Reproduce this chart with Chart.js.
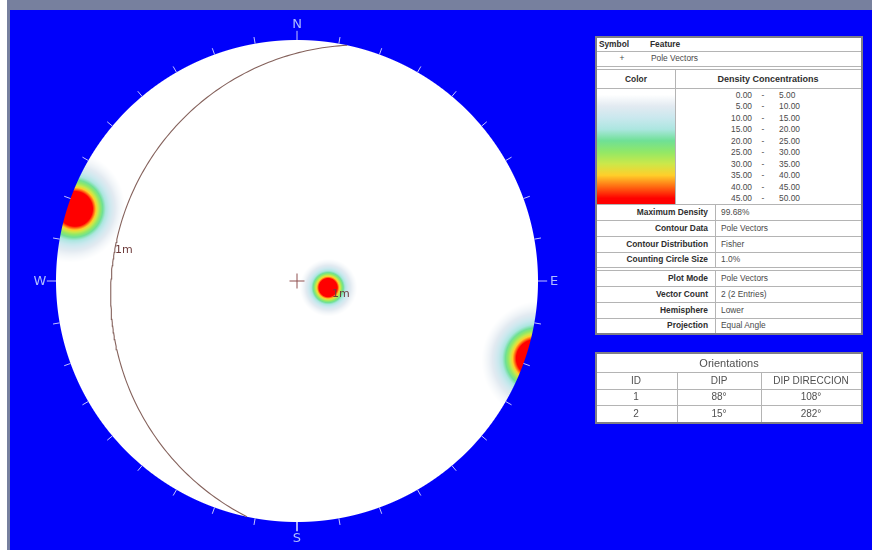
<!DOCTYPE html>
<html>
<head>
<meta charset="utf-8">
<script src="https://cdn.jsdelivr.net/npm/chart.js@4/dist/chart.umd.min.js"></script>
<style>
  html, body { margin: 0; padding: 0; background: #ffffff; }
  #wrap { position: relative; width: 872px; height: 550px; overflow: hidden; }
  #c { position: absolute; left: 0; top: 0; }
  .box { position: absolute; background: #ffffff; border: 2px solid #7f7f87; box-sizing: border-box; }
  .t { position: absolute; white-space: nowrap; font-family: "Liberation Sans", Arial, sans-serif; font-size: 8.4px; line-height: 1; color: #4a4a4a; }
  .b { font-weight: bold; color: #2e2e2e; }
  .o { font-size: 10px; color: #505050; }
  .hl { position: absolute; height: 1px; background: #b4b4b4; }
  .vl { position: absolute; width: 1px; background: #b4b4b4; }
</style>
</head>
<body>
<div id="wrap">
  <canvas id="c" width="872" height="550"></canvas>
  <div id="tables"></div>
</div>
<script>
// ---- Orientation data (plane dip / dip direction) ----
const planeIds = ['1', '2'];
const dips = [88, 15];
const dipDirections = [108, 282];
const meanPlaneIndex = 1;          // plane whose great circle and pole carry the set label
const meanSetLabel = '1m';

// ---- Compass labels (azimuth in degrees) ----
const compassLabels = ['N', 'E', 'S', 'W'];
const compassAzimuths = [0, 90, 180, 270];

// ---- Density legend ----
const densityLow = [0, 5, 10, 15, 20, 25, 30, 35, 40, 45];
const densityHigh = [5, 10, 15, 20, 25, 30, 35, 40, 45, 50];
const densityColors = ['#ffffff', '#e2eaf1', '#cae8ee', '#ace6e0', '#6fe096',
                       '#92e866', '#cbe84a', '#ffcf2a', '#ff6a12', '#ff0000'];

// ---- Contour / plot information ----
const contourInfoLabels = ['Maximum Density', 'Contour Data', 'Contour Distribution', 'Counting Circle Size'];
const contourInfoValues = ['99.68%', 'Pole Vectors', 'Fisher', '1.0%'];
const plotInfoLabels = ['Plot Mode', 'Vector Count', 'Hemisphere', 'Projection'];
const plotInfoValues = ['Pole Vectors', '2 (2 Entries)', 'Lower', 'Equal Angle'];
const orientationTitle = 'Orientations';
const orientationHeaders = ['ID', 'DIP', 'DIP DIRECCION'];

const maxDensity = parseFloat(contourInfoValues[0]);
const kernelWidth = 5.3;           // angular width of the smoothing kernel, degrees
const kernelShape = 1.4;           // exponent of the kernel fall-off

const rad = Math.PI / 180;

// Lower-hemisphere equal-angle (stereographic) projection of a unit vector (north, east, down)
function project(n, e, d) {
  if (d < 0) { n = -n; e = -e; d = -d; }
  return { x: e / (1 + d), y: n / (1 + d) };
}
function poleVector(dip, dipDir) {
  return [-Math.sin(dip * rad) * Math.cos(dipDir * rad),
          -Math.sin(dip * rad) * Math.sin(dipDir * rad),
           Math.cos(dip * rad)];
}
function greatCircle(dip, dipDir) {
  const s = [Math.cos((dipDir - 90) * rad), Math.sin((dipDir - 90) * rad), 0];
  const dv = [Math.cos(dip * rad) * Math.cos(dipDir * rad), Math.cos(dip * rad) * Math.sin(dipDir * rad), Math.sin(dip * rad)];
  const pts = [];
  for (let t = 0; t <= 180; t += 1) {
    const c = Math.cos(t * rad), sn = Math.sin(t * rad);
    pts.push(project(s[0] * c + dv[0] * sn, s[1] * c + dv[1] * sn, s[2] * c + dv[2] * sn));
  }
  return pts;
}

const poles = dips.map((d, i) => poleVector(d, dipDirections[i]));
const poleXY = poles.map(p => project(p[0], p[1], p[2]));
const meanCircle = greatCircle(dips[meanPlaneIndex], dipDirections[meanPlaneIndex]);

// Azimuth ticks around the primitive circle
const tickData = [];
for (let az = 0; az < 360; az += 10) {
  const len = (az % 90 === 0) ? 1.038 : 1.028;
  tickData.push({ x: Math.sin(az * rad), y: Math.cos(az * rad) });
  tickData.push({ x: len * Math.sin(az * rad), y: len * Math.cos(az * rad) });
  tickData.push({ x: 0, y: null });
}

// Colour ramp for density values (colour of each legend bin at its middle)
const rampStops = densityColors.map((c, i) => ({
  v: (densityLow[i] + densityHigh[i]) / 2,
  rgb: [parseInt(c.slice(1, 3), 16), parseInt(c.slice(3, 5), 16), parseInt(c.slice(5, 7), 16)]
}));
function rampColor(v) {
  if (v <= rampStops[0].v) return rampStops[0].rgb;
  for (let i = 1; i < rampStops.length; i++) {
    if (v <= rampStops[i].v) {
      const a = rampStops[i - 1], b = rampStops[i];
      const f = (v - a.v) / (b.v - a.v);
      return [0, 1, 2].map(k => a.rgb[k] + (b.rgb[k] - a.rgb[k]) * f);
    }
  }
  return rampStops[rampStops.length - 1].rgb;
}

const stereonetPlugin = {
  id: 'stereonet',
  beforeDraw(chart) {
    const ctx = chart.ctx;
    ctx.save();
    ctx.fillStyle = '#ffffff';
    ctx.fillRect(0, 0, chart.width, chart.height);
    ctx.fillStyle = '#77809e';
    ctx.fillRect(7, 0, chart.width - 7, 10);
    ctx.fillRect(7, 0, 3, chart.height);
    ctx.fillStyle = '#0000fb';
    ctx.fillRect(10, 10, chart.width - 10, chart.height - 10);
    ctx.restore();
  },
  beforeDatasetsDraw(chart) {
    const xs = chart.scales.x, ys = chart.scales.y;
    const cx = xs.getPixelForValue(0), cy = ys.getPixelForValue(0);
    const R = xs.getPixelForValue(1) - cx;
    const x0 = Math.floor(cx - R - 2), y0 = Math.floor(cy - R - 2);
    const w = Math.ceil(2 * R + 5), h = w;
    const off = document.createElement('canvas');
    off.width = w; off.height = h;
    const octx = off.getContext('2d');
    const img = octx.createImageData(w, h);
    for (let py = 0; py < h; py++) {
      const Y = ys.getValueForPixel(y0 + py + 0.5);
      for (let px = 0; px < w; px++) {
        const X = xs.getValueForPixel(x0 + px + 0.5);
        const r2 = X * X + Y * Y;
        const edge = (1 - Math.sqrt(r2)) * R + 0.5;
        if (edge <= 0) continue;
        const alpha = Math.min(1, edge);
        const k = 2 / (1 + r2);
        const n = Y * k, e = X * k, d = (1 - r2) / (1 + r2);
        let dens = 0;
        for (const p of poles) {
          const c = Math.min(1, Math.abs(n * p[0] + e * p[1] + d * p[2]));
          const ang = Math.acos(c) / rad;
          dens += maxDensity * Math.exp(-Math.pow(ang / kernelWidth, kernelShape));
        }
        const col = rampColor(dens);
        const idx = (py * w + px) * 4;
        img.data[idx] = col[0]; img.data[idx + 1] = col[1]; img.data[idx + 2] = col[2];
        img.data[idx + 3] = Math.round(alpha * 255);
      }
    }
    octx.putImageData(img, 0, 0);
    chart.ctx.drawImage(off, x0, y0);
  },
  afterDatasetsDraw(chart) {
    const ctx = chart.ctx;
    const xs = chart.scales.x, ys = chart.scales.y;
    const cx = xs.getPixelForValue(0), cy = ys.getPixelForValue(0);
    const R = xs.getPixelForValue(1) - cx;
    ctx.save();
    // compass letters
    ctx.font = '13px "DejaVu Sans", sans-serif';
    ctx.fillStyle = '#aebcff';
    ctx.textAlign = 'center';
    ctx.textBaseline = 'middle';
    compassLabels.forEach((lab, i) => {
      const a = compassAzimuths[i] * rad;
      ctx.fillText(lab, cx + (R + 16) * Math.sin(a), cy - (R + 16) * Math.cos(a) + 1);
    });
    // set labels on the mean great circle and its pole
    ctx.font = '11px "DejaVu Sans", sans-serif';
    ctx.fillStyle = '#6e3c3c';
    ctx.textAlign = 'left';
    ctx.textBaseline = 'top';
    const mid = meanCircle[90];
    ctx.fillText(meanSetLabel, xs.getPixelForValue(mid.x) - 1, ys.getPixelForValue(mid.y) + 2);
    const pl = poleXY[meanPlaneIndex];
    ctx.fillText(meanSetLabel, xs.getPixelForValue(pl.x) + 4, ys.getPixelForValue(pl.y) + 1);
    ctx.restore();
  }
};

// Unit-circle scale ranges: centre at (297, 281), radius 241 px on an 872 x 550 canvas
const unitPx = 241;
const xMin = -297 / unitPx, xMax = (872 - 297) / unitPx;
const yMax = 281 / unitPx, yMin = -(550 - 281) / unitPx;

new Chart(document.getElementById('c'), {
  type: 'scatter',
  data: {
    datasets: [
      { label: 'Mean plane', data: meanCircle, showLine: true, borderColor: '#85625c', borderWidth: 1.1, pointRadius: 0, fill: false },
      { label: 'Ticks', data: tickData, showLine: true, spanGaps: false, borderColor: '#c4c4ff', borderWidth: 1, pointRadius: 0 },
      { label: 'Centre', data: [{ x: 0, y: 0 }], pointStyle: 'cross', pointRadius: 7.5, borderColor: '#8e4f4f', borderWidth: 1, backgroundColor: '#8e4f4f' }
    ]
  },
  options: {
    responsive: false,
    animation: false,
    layout: { padding: 0, autoPadding: false },
    scales: {
      x: { type: 'linear', min: xMin, max: xMax, display: false },
      y: { type: 'linear', min: yMin, max: yMax, display: false }
    },
    plugins: { legend: { display: false }, tooltip: { enabled: false } },
    events: []
  },
  plugins: [stereonetPlugin]
});

// ---- Side tables ----
const host = document.getElementById('tables');
function el(cls, css, text) {
  const d = document.createElement('div');
  d.className = cls;
  Object.assign(d.style, css);
  if (text !== undefined) d.textContent = text;
  host.appendChild(d);
  return d;
}
function txt(x, y, s, cls, align) {
  const tx = align === 'right' ? '-100%' : align === 'center' ? '-50%' : '0';
  return el('t ' + (cls || ''), { left: x + 'px', top: y + 'px', transform: `translate(${tx},-50%)` }, s);
}
function hline(x1, x2, y) { el('hl', { left: x1 + 'px', top: y + 'px', width: (x2 - x1) + 'px' }); }
function vline(x, y1, y2) { el('vl', { left: x + 'px', top: y1 + 'px', height: (y2 - y1) + 'px' }); }

// Legend / info table
el('box', { left: '595px', top: '36px', width: '268px', height: '299px' });
txt(614, 44, 'Symbol', 'b', 'center');
txt(650, 44, 'Feature', 'b');
hline(597, 861, 51);
txt(622, 58, '+', '', 'center');
txt(651, 58, 'Pole Vectors');
hline(597, 861, 66); hline(597, 861, 69);
txt(636, 79, 'Color', 'b', 'center');
txt(768, 79, 'Density Concentrations', 'b', 'center').style.fontSize = '9px';
vline(675, 69, 204);
hline(597, 861, 88);
const rowH = (204 - 89) / densityLow.length;
const barStops = densityColors.map((c, i) => `${c} ${((i + 0.5) / densityColors.length * 100).toFixed(1)}%`).join(',');
el('', { position: 'absolute', left: '597px', top: '89px', width: '78px', height: (204 - 89) + 'px', background: `linear-gradient(to bottom, ${densityColors[0]} 0%, ${barStops}, ${densityColors[densityColors.length - 1]} 100%)` });
densityLow.forEach((lo, i) => {
  const y = 89 + rowH * (i + 0.5);
  txt(752, y, lo.toFixed(2), '', 'right');
  txt(763, y, '-', '', 'center');
  txt(779, y, densityHigh[i].toFixed(2));
});
hline(597, 861, 204);
const infoY1 = [212, 228, 244, 259];
contourInfoLabels.forEach((lab, i) => {
  txt(708, infoY1[i], lab, 'b', 'right');
  txt(721, infoY1[i], contourInfoValues[i]);
  if (i < 3) hline(597, 861, infoY1[i] + 8);
});
vline(715, 204, 267);
hline(597, 861, 267); hline(597, 861, 270);
const infoY2 = [278, 294, 310, 325];
plotInfoLabels.forEach((lab, i) => {
  txt(708, infoY2[i], lab, 'b', 'right');
  txt(721, infoY2[i], plotInfoValues[i]);
  if (i < 3) hline(597, 861, infoY2[i] + 8);
});
vline(715, 270, 333);

// Orientations table
el('box', { left: '595px', top: '352px', width: '268px', height: '72px' });
txt(729, 363, orientationTitle, 'o', 'center').style.fontSize = '11px';
hline(597, 861, 372);
const colX = [636, 719, 811];
orientationHeaders.forEach((hd, i) => txt(colX[i], 381, hd, 'o', 'center'));
hline(597, 861, 389);
planeIds.forEach((id, r) => {
  const y = 397 + r * 16.5;
  txt(colX[0], y, id, 'o', 'center');
  txt(colX[1], y, dips[r] + '°', 'o', 'center');
  txt(colX[2], y, dipDirections[r] + '°', 'o', 'center');
  if (r === 0) hline(597, 861, 405);
});
vline(677, 372, 422);
vline(761, 372, 422);
</script>
</body>
</html>
